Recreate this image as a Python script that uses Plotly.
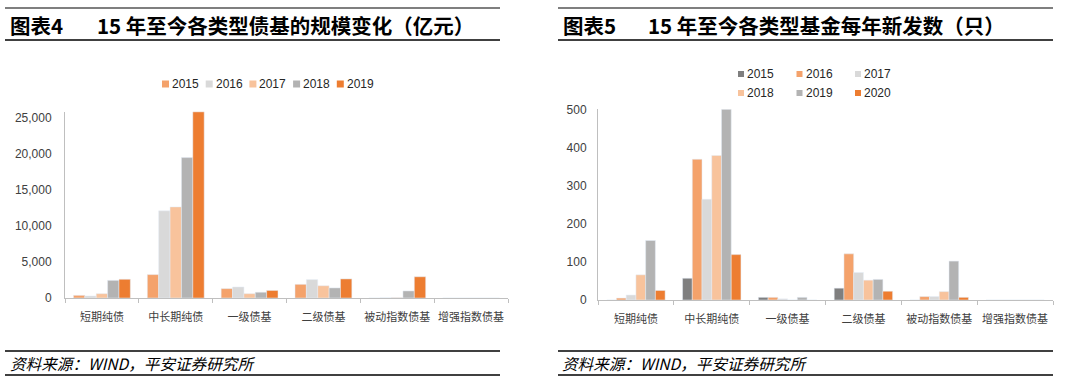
import plotly.graph_objects as go

# ---------------- data ----------------
categories = ["短期纯债", "中长期纯债", "一级债基", "二级债基", "被动指数债基", "增强指数债基"]

# Chart 4: scale (亿元)
scale_years = ["2015", "2016", "2017", "2018", "2019"]
scale_2015 = [370, 3250, 1300, 1900, 0, 0]
scale_2016 = [280, 12100, 1530, 2550, 30, 0]
scale_2017 = [600, 12650, 600, 1700, 60, 0]
scale_2018 = [2450, 19500, 800, 1400, 980, 0]
scale_2019 = [2600, 25850, 1050, 2650, 2950, 0]
scale_colors = ["#F4A26B", "#D9D9D9", "#F8C39C", "#B3B3B3", "#ED7D31"]

# Chart 5: new funds (只)
count_years = ["2015", "2016", "2017", "2018", "2019", "2020"]
count_2015 = [0, 57, 7, 31, 0, 0]
count_2016 = [5, 369, 7, 121, 9, 0]
count_2017 = [13, 264, 3, 72, 9, 0]
count_2018 = [66, 379, 0, 52, 22, 0]
count_2019 = [156, 500, 7, 54, 102, 0]
count_2020 = [25, 119, 0, 23, 7, 0]
count_colors = ["#7F7F7F", "#F4A26B", "#D9D9D9", "#F8C39C", "#B3B3B3", "#ED7D31"]

scale_series = [scale_2015, scale_2016, scale_2017, scale_2018, scale_2019]
count_series = [count_2015, count_2016, count_2017, count_2018, count_2019, count_2020]

W, H = 1080, 384
def px(x):
    return x / W
def py(y):
    return 1 - y / H

fig = go.Figure()
for name, vals, c in zip(scale_years, scale_series, scale_colors):
    fig.add_trace(go.Bar(x=categories, y=vals, name=name, marker_color=c,
                         xaxis="x", yaxis="y", showlegend=False))
for name, vals, c in zip(count_years, count_series, count_colors):
    fig.add_trace(go.Bar(x=categories, y=vals, name=name, marker_color=c,
                         xaxis="x2", yaxis="y2", showlegend=False))

axis_col = "#BFBFBF"
tick_font = dict(family="Liberation Sans, Arial", size=12, color="#404040")
cat_font = dict(family="Noto Sans CJK SC", size=11, color="#404040")

xcommon = dict(type="category", showline=True, linecolor=axis_col, linewidth=1,
               ticks="outside", tickson="boundaries", ticklen=4, tickcolor=axis_col,
               showgrid=False, tickfont=cat_font, ticklabelstandoff=9, fixedrange=True,
               tickangle=0, automargin=False)
ycommon = dict(showline=True, linecolor=axis_col, linewidth=1, ticks="",
               showgrid=False, zeroline=False, tickfont=tick_font, fixedrange=True,
               automargin=False)

fig.update_layout(
    width=W, height=H,
    margin=dict(l=0, r=0, t=0, b=0, autoexpand=False),
    paper_bgcolor="white", plot_bgcolor="white",
    barmode="group", bargap=0.23, bargroupgap=0,
    showlegend=False,
    xaxis=dict(domain=[px(65), px(508)], anchor="y", **xcommon),
    yaxis=dict(domain=[py(298), py(111.5)], anchor="x", range=[0, 25900],
               tickvals=[0, 5000, 10000, 15000, 20000, 25000], tickformat=",",
               ticklabelstandoff=10, **ycommon),
    xaxis2=dict(domain=[px(598), px(1053)], anchor="y2", **xcommon),
    yaxis2=dict(domain=[py(300), py(109.3)], anchor="x2", range=[0, 500],
                tickvals=[0, 100, 200, 300, 400, 500],
                ticklabelstandoff=8, **ycommon),
)

shapes = []
annotations = []

def hline(x0, x1, y, w=1.5):
    shapes.append(dict(type="line", xref="paper", yref="paper",
                       x0=px(x0), x1=px(x1), y0=py(y), y1=py(y),
                       line=dict(color="#000000", width=w)))

# header / footer rules
for (x0, x1) in [(5, 500), (558, 1053)]:
    hline(x0, x1, 8, 1.2)
    hline(x0, x1, 40, 1.6)
    hline(x0, x1, 351, 1.6)
    hline(x0, x1, 375, 1.6)

title_font = dict(family="Noto Sans CJK SC", size=20.5, color="#000000")
def text(x, y, s, font, xanchor="left"):
    annotations.append(dict(x=px(x), y=py(y), xref="paper", yref="paper", text=s,
                            showarrow=False, xanchor=xanchor, yanchor="middle",
                            font=font))

text(8, 25, "<b>图表4</b>", title_font)
text(95, 25, "<b>15 年至今各类型债基的规模变化（亿元）</b>", title_font)
text(561, 25, "<b>图表5</b>", title_font)
text(646, 25, "<b>15 年至今各类型基金每年新发数（只）</b>", title_font)

foot_font = dict(family="Noto Sans CJK SC", size=15.6, color="#000000")
text(8, 363, "<i>资料来源：WIND，平安证券研究所</i>", foot_font)
text(560, 363, "<i>资料来源：WIND，平安证券研究所</i>", foot_font)

# legends (swatch + label built from the series lists)
leg_font = dict(family="Liberation Sans, Arial", size=12, color="#262626")
def legend_item(x, y, name, color, size=7):
    shapes.append(dict(type="rect", xref="paper", yref="paper",
                       x0=px(x), x1=px(x + size), y0=py(y + size / 2), y1=py(y - size / 2),
                       fillcolor=color, line=dict(width=0)))
    text(x + size + 1, y, name, leg_font)

for i, (name, c) in enumerate(zip(scale_years, scale_colors)):
    legend_item(162 + i * 43.7, 84, name, c)

for i, (name, c) in enumerate(zip(count_years, count_colors)):
    row, col = divmod(i, 3)
    legend_item(738 + col * 58.5, 74 + row * 19, name, c, size=6)

fig.update_layout(shapes=shapes, annotations=annotations)
fig.write_html("out.html", config={"displayModeBar": False},
               post_script="document.body.style.margin='0';document.body.style.padding='0';")
